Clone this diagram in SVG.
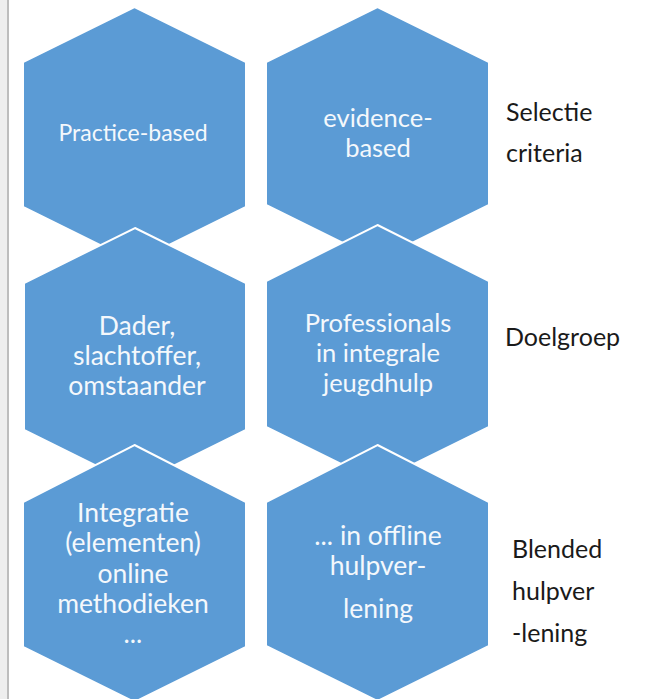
<svg xmlns="http://www.w3.org/2000/svg" width="649" height="699" viewBox="0 0 649 699">
<style>
.hex{fill:#5B9BD5;stroke:#ffffff;stroke-width:2;stroke-linejoin:miter}
.ht{font-family:Lato,"Open Sans","DejaVu Sans",sans-serif;fill:#F4F8FC;text-anchor:middle}
.s21{font-size:23px}
.s25{font-size:25.5px}
.s26{font-size:26.5px}
.s26b{font-size:26.5px}
.lb{font-family:Lato,"Open Sans","DejaVu Sans",sans-serif;font-size:25px;fill:#1a1a1a}
</style>
<rect x="0" y="0" width="649" height="699" fill="#ffffff"/>
<rect x="0" y="0" width="7" height="699" fill="#eeeeee"/>
<rect x="7" y="0" width="2" height="699" fill="#bdbdbd"/>
<g id="connectors"></g>
<g id="hex-practice">
<polygon class="hex" points="134.5,7 246,62 246,207 134.5,262 23,207 23,62"/>
<text class="ht s21" x="133" y="141">Practice-based</text>
</g>
<g id="hex-dader">
<polygon class="hex" points="135,228 246,283 246,430 135,485 24,430 24,283"/>
<text class="ht s26" x="137" y="335">Dader,</text>
<text class="ht s26" x="137" y="365">slachtoffer,</text>
<text class="ht s26" x="137" y="395">omstaander</text>
</g>
<g id="hex-integratie">
<polygon class="hex" points="134.5,445 246,502 246,647 134.5,702 23,647 23,502"/>
<text class="ht s26b" x="133" y="522">Integratie</text>
<text class="ht s26b" x="133" y="552">(elementen)</text>
<text class="ht s26b" x="133" y="583">online</text>
<text class="ht s26b" x="133" y="613">methodieken</text>
<text class="ht s26b" x="133" y="643">...</text>
</g>
<g id="hex-evidence">
<polygon class="hex" points="377.5,7 489,62 489,205 377.5,260 266,205 266,62"/>
<text class="ht s25" x="378" y="127">evidence-</text>
<text class="ht s25" x="378" y="157">based</text>
</g>
<g id="hex-professionals">
<polygon class="hex" points="377.5,225 489,281 489,427 377.5,482 266,427 266,281"/>
<text class="ht s25" x="378" y="332">Professionals</text>
<text class="ht s25" x="378" y="362">in integrale</text>
<text class="ht s25" x="378" y="392">jeugdhulp</text>
</g>
<g id="hex-offline">
<polygon class="hex" points="377.5,445 489,502 489,646 377.5,701 266,646 266,502"/>
<text class="ht s26b" x="378" y="545">... in offline</text>
<text class="ht s26b" x="378" y="575">hulpver-</text>
<text class="ht s26b" x="378" y="618">lening</text>
</g>
<g id="label-selectie">
<text class="lb" x="506" y="121">Selectie</text>
<text class="lb" x="506" y="162">criteria</text>
</g>
<g id="label-doelgroep">
<text class="lb" x="505" y="346">Doelgroep</text>
</g>
<g id="label-blended">
<text class="lb" x="512" y="558">Blended</text>
<text class="lb" x="512" y="600">hulpver</text>
<text class="lb" x="512" y="642">-lening</text>
</g>
</svg>
